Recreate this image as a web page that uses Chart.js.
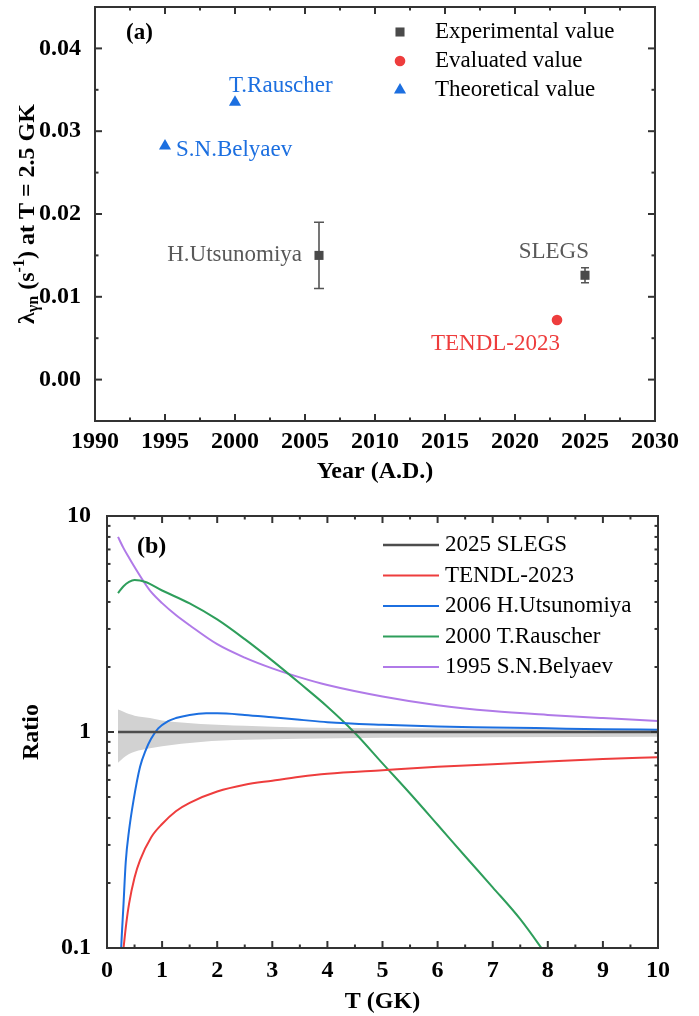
<!DOCTYPE html>
<html>
<head>
<meta charset="utf-8">
<script src="https://cdn.jsdelivr.net/npm/chart.js@4.4.1/dist/chart.umd.min.js"></script>
<style>
  html, body { margin: 0; padding: 0; background: #fff; }
  #wrap { width: 699px; height: 1016px; }
  canvas { display: block; }
</style>
</head>
<body>
<div id="wrap">
  <canvas id="rateChart" width="699" height="490"></canvas>
  <canvas id="ratioChart" width="699" height="526"></canvas>
</div>
<script>
// ---- panel (a): photodisintegration rate at T = 2.5 GK ----
const yearTicks = [1990, 1995, 2000, 2005, 2010, 2015, 2020, 2025, 2030];
const rateTicks = [0, 0.01, 0.02, 0.03, 0.04];

const expNames = ['H.Utsunomiya', 'SLEGS'];
const expYears = [2006, 2025];
const expRates = [0.0150, 0.0126];
const expErrors = [0.0040, 0.0009];

const evalNames = ['TENDL-2023'];
const evalYears = [2023];
const evalRates = [0.0072];

const theoNames = ['S.N.Belyaev', 'T.Rauscher'];
const theoYears = [1995, 2000];
const theoRates = [0.0282, 0.0335];

// ---- panel (b): ratio to SLEGS vs temperature ----
const tempTicks = [0, 1, 2, 3, 4, 5, 6, 7, 8, 9, 10];
const ratioTicks = [0.1, 1, 10];

const bandT = [0.2, 0.3, 0.4, 0.5, 0.78, 1, 1.7, 2.5, 3.5, 5, 7, 10];
const bandUpper = [1.27, 1.24, 1.21, 1.19, 1.16, 1.13, 1.09, 1.07, 1.05, 1.04, 1.035, 1.03];
const bandLower = [0.72, 0.76, 0.79, 0.81, 0.84, 0.86, 0.90, 0.92, 0.93, 0.94, 0.945, 0.95];

const slegsT = [0.2, 10];
const slegsRatio = [1, 1];

const tendlT = [0.27, 0.3, 0.35, 0.4, 0.5, 0.6, 0.8, 1.0, 1.25, 1.5, 2, 2.5, 3, 3.5, 4, 5, 6, 7, 8, 9, 10];
const tendlRatio = [0.085, 0.1, 0.13, 0.16, 0.212, 0.255, 0.325, 0.375, 0.43, 0.47, 0.53, 0.57, 0.595, 0.62, 0.64, 0.665, 0.69, 0.71, 0.73, 0.75, 0.765];

const utsuT = [0.22, 0.25, 0.3, 0.34, 0.4, 0.48, 0.6, 0.7, 0.8, 0.93, 1.1, 1.25, 1.5, 1.8, 2.0, 2.5, 3, 3.5, 4, 5, 6, 7, 8, 9, 10];
const utsuRatio = [0.05, 0.09, 0.16, 0.25, 0.35, 0.48, 0.69, 0.82, 0.93, 1.04, 1.12, 1.16, 1.2, 1.22, 1.22, 1.2, 1.17, 1.14, 1.11, 1.08, 1.06, 1.05, 1.04, 1.03, 1.025];

const rauT = [0.2, 0.3, 0.4, 0.5, 0.7, 1, 1.5, 2, 2.5, 3, 3.5, 4, 4.5, 5, 5.5, 6, 6.5, 7, 7.5, 8];
const rauRatio = [4.40, 4.73, 4.95, 5.05, 4.95, 4.52, 3.94, 3.32, 2.69, 2.14, 1.68, 1.31, 0.99, 0.716, 0.519, 0.372, 0.266, 0.191, 0.136, 0.091];

const belT = [0.2, 0.3, 0.4, 0.5, 0.67, 0.8, 1, 1.25, 1.5, 2, 2.5, 3, 3.5, 4, 5, 6, 7, 8, 9, 10];
const belRatio = [8.0, 7.1, 6.4, 5.8, 4.95, 4.45, 3.95, 3.48, 3.12, 2.55, 2.21, 1.97, 1.79, 1.65, 1.46, 1.33, 1.25, 1.2, 1.16, 1.125];

// ---- styling ----
const SERIF = "'Liberation Serif', 'Times New Roman', serif";
const GRAY = '#4a4a4a';
const LABEL_GRAY = '#595959';
const RED = '#ee3d3d';
const BLUE = '#1c6fe0';
const GREEN = '#2e9e5b';
const PURPLE = '#b07ae8';
const BAND = '#d2d2d2';

Chart.defaults.font.family = SERIF;

const xy = (xs, ys) => xs.map((x, i) => ({ x: x, y: ys[i] }));
const tickFont = { family: SERIF, size: 24, weight: 'bold' };
const titleFont = { family: SERIF, size: 24, weight: 'bold' };

// box around the plot with inward ticks on all four sides
const framePlugin = {
  id: 'frame',
  afterDatasetsDraw(chart, args, opts) {
    const { ctx, chartArea: a } = chart;
    const xs = chart.scales.x, ys = chart.scales.y;
    ctx.save();
    ctx.strokeStyle = '#333';
    ctx.lineWidth = 2;
    const seg = (x1, y1, x2, y2) => { ctx.beginPath(); ctx.moveTo(x1, y1); ctx.lineTo(x2, y2); ctx.stroke(); };
    const xMarks = (vals, len) => vals.forEach(v => {
      const px = xs.getPixelForValue(v);
      if (px <= a.left + 1 || px >= a.right - 1) return;
      seg(px, a.bottom, px, a.bottom - len);
      seg(px, a.top, px, a.top + len);
    });
    const yMarks = (vals, len) => vals.forEach(v => {
      const py = ys.getPixelForValue(v);
      if (py <= a.top + 1 || py >= a.bottom - 1) return;
      seg(a.left, py, a.left + len, py);
      seg(a.right, py, a.right - len, py);
    });
    xMarks(opts.xMajor, 7); xMarks(opts.xMinor, 3.5);
    yMarks(opts.yMajor, 7); yMarks(opts.yMinor, 3.5);
    ctx.strokeRect(a.left, a.top, a.right - a.left, a.bottom - a.top);
    ctx.restore();
  }
};

const panelTagPlugin = {
  id: 'panelTag',
  afterDraw(chart, args, opts) {
    const ctx = chart.ctx;
    ctx.save();
    ctx.font = `bold ${opts.size}px ${SERIF}`;
    ctx.fillStyle = '#000';
    ctx.textBaseline = 'middle';
    ctx.fillText(opts.text, opts.x, opts.y);
    ctx.restore();
  }
};

const errorBarPlugin = {
  id: 'errorBars',
  beforeDatasetsDraw(chart) {
    const ctx = chart.ctx;
    const ys = chart.scales.y;
    const meta = chart.getDatasetMeta(0);
    ctx.save();
    ctx.strokeStyle = '#555';
    ctx.lineWidth = 1.6;
    meta.data.forEach((pt, i) => {
      const top = ys.getPixelForValue(expRates[i] + expErrors[i]);
      const bot = ys.getPixelForValue(expRates[i] - expErrors[i]);
      const cap = i === 0 ? 5 : 4;
      ctx.beginPath();
      ctx.moveTo(pt.x, top); ctx.lineTo(pt.x, bot);
      ctx.moveTo(pt.x - cap, top); ctx.lineTo(pt.x + cap, top);
      ctx.moveTo(pt.x - cap, bot); ctx.lineTo(pt.x + cap, bot);
      ctx.stroke();
    });
    ctx.restore();
  }
};

const pointLabelPlugin = {
  id: 'pointLabels',
  afterDatasetsDraw(chart, args, opts) {
    const ctx = chart.ctx;
    ctx.save();
    ctx.font = `23px ${SERIF}`;
    ctx.textBaseline = 'middle';
    opts.items.forEach(it => {
      const el = chart.getDatasetMeta(it.ds).data[it.i];
      ctx.fillStyle = it.color;
      ctx.textAlign = it.align;
      ctx.fillText(it.text, el.x + it.dx, el.y + it.dy);
    });
    ctx.restore();
  }
};

const markerLegendPlugin = {
  id: 'markerLegend',
  afterDraw(chart, args, opts) {
    const ctx = chart.ctx;
    ctx.save();
    ctx.font = `23px ${SERIF}`;
    ctx.textBaseline = 'middle';
    chart.data.datasets.forEach((ds, k) => {
      const y = opts.y0 + k * opts.dy;
      ctx.fillStyle = ds.backgroundColor;
      Chart.helpers.drawPoint(ctx, { pointStyle: ds.pointStyle, radius: ds.pointRadius, rotation: 0, borderWidth: 0 }, opts.markerX, y);
      ctx.fillStyle = '#000';
      ctx.fillText(ds.label, opts.textX, y);
    });
    ctx.restore();
  }
};

const lineLegendPlugin = {
  id: 'lineLegend',
  afterDraw(chart, args, opts) {
    const ctx = chart.ctx;
    ctx.save();
    ctx.font = `23px ${SERIF}`;
    ctx.textBaseline = 'middle';
    let k = 0;
    chart.data.datasets.forEach(ds => {
      if (!ds.label) return;
      const y = opts.y0 + k * opts.dy;
      ctx.strokeStyle = ds.borderColor;
      ctx.lineWidth = ds.borderWidth;
      ctx.beginPath(); ctx.moveTo(opts.x1, y); ctx.lineTo(opts.x2, y); ctx.stroke();
      ctx.fillStyle = '#000';
      ctx.fillText(ds.label, opts.textX, y);
      k++;
    });
    ctx.restore();
  }
};

// y title of panel (a) with subscript and superscript
const rateTitlePlugin = {
  id: 'rateTitle',
  afterDraw(chart) {
    const { ctx, chartArea: a } = chart;
    const big = `bold 24px ${SERIF}`, small = `bold 16px ${SERIF}`;
    const parts = [
      { t: 'λ', f: big, dy: 0 },
      { t: 'γn', f: small, dy: 6 },
      { t: ' (s', f: big, dy: 0 },
      { t: '-1', f: small, dy: -8 },
      { t: ') at T = 2.5 GK', f: big, dy: 0 }
    ];
    ctx.save();
    let total = 0;
    parts.forEach(p => { ctx.font = p.f; p.w = ctx.measureText(p.t).width; total += p.w; });
    ctx.translate(28, (a.top + a.bottom) / 2);
    ctx.rotate(-Math.PI / 2);
    ctx.fillStyle = '#000';
    ctx.textBaseline = 'middle';
    ctx.textAlign = 'left';
    let x = -total / 2;
    parts.forEach(p => { ctx.font = p.f; ctx.fillText(p.t, x, p.dy); x += p.w; });
    ctx.restore();
  }
};

// ---------- Panel (a) ----------
new Chart(document.getElementById('rateChart'), {
  type: 'scatter',
  data: {
    datasets: [
      { label: 'Experimental value', data: xy(expYears, expRates), pointStyle: 'rect', pointRadius: 6.4, backgroundColor: GRAY, borderWidth: 0 },
      { label: 'Evaluated value', data: xy(evalYears, evalRates), pointStyle: 'circle', pointRadius: 5.3, backgroundColor: RED, borderWidth: 0 },
      { label: 'Theoretical value', data: xy(theoYears, theoRates), pointStyle: 'triangle', pointRadius: 7, backgroundColor: BLUE, borderWidth: 0 }
    ]
  },
  options: {
    responsive: false,
    animation: false,
    events: [],
    layout: { padding: { top: 0, right: 44, left: 0, bottom: 0 } },
    plugins: {
      legend: { display: false },
      tooltip: { enabled: false },
      frame: {
        xMajor: yearTicks, xMinor: yearTicks.map(v => v + 2.5),
        yMajor: rateTicks, yMinor: rateTicks.map(v => v + 0.005)
      },
      panelTag: { text: '(a)', x: 126, y: 33, size: 23 },
      markerLegend: { markerX: 400, textX: 435, y0: 32, dy: 29 },
      pointLabels: {
        items: [
          { ds: 0, i: 0, text: expNames[0], color: LABEL_GRAY, align: 'right', dx: -17, dy: 0 },
          { ds: 0, i: 1, text: expNames[1], color: LABEL_GRAY, align: 'right', dx: 4, dy: -23 },
          { ds: 1, i: 0, text: evalNames[0], color: RED, align: 'right', dx: 3, dy: 24 },
          { ds: 2, i: 0, text: theoNames[0], color: BLUE, align: 'left', dx: 11, dy: 4 },
          { ds: 2, i: 1, text: theoNames[1], color: BLUE, align: 'left', dx: -6, dy: -16 }
        ]
      }
    },
    scales: {
      x: {
        type: 'linear', min: 1990, max: 2030,
        afterBuildTicks: s => { s.ticks = yearTicks.map(v => ({ value: v })); },
        afterFit: s => { s.height = 69; },
        grid: { display: false }, border: { display: false },
        ticks: { font: tickFont, color: '#000', padding: -2, maxRotation: 0, autoSkip: false, callback: v => String(v) },
        title: { display: true, text: 'Year (A.D.)', font: titleFont, color: '#000', padding: { top: 0, bottom: 4 } }
      },
      y: {
        min: -0.005, max: 0.045,
        afterBuildTicks: s => { s.ticks = rateTicks.map(v => ({ value: v })); },
        afterFit: s => { s.width = 95; s.paddingTop = 0; s.paddingBottom = 0; },
        grid: { display: false }, border: { display: false },
        ticks: { font: tickFont, color: '#000', padding: 6, callback: v => v.toFixed(2) }
      }
    }
  },
  plugins: [errorBarPlugin, framePlugin, pointLabelPlugin, markerLegendPlugin, panelTagPlugin, rateTitlePlugin]
});

// ---------- Panel (b) ----------
const curve = (label, color, xs, ys, width) => ({
  label: label, data: xy(xs, ys), showLine: true, borderColor: color, borderWidth: width,
  pointRadius: 0, fill: false, cubicInterpolationMode: 'monotone', order: 1
});

new Chart(document.getElementById('ratioChart'), {
  type: 'scatter',
  data: {
    datasets: [
      { data: xy(bandT, bandUpper), showLine: true, pointRadius: 0, borderColor: 'rgba(0,0,0,0)', borderWidth: 1,
        backgroundColor: BAND, fill: '+1', cubicInterpolationMode: 'monotone', order: 5 },
      { data: xy(bandT, bandLower), showLine: true, pointRadius: 0, borderColor: 'rgba(0,0,0,0)', borderWidth: 1,
        fill: false, cubicInterpolationMode: 'monotone', order: 6 },
      curve('2025 SLEGS', '#4d4d4d', slegsT, slegsRatio, 2.4),
      curve('TENDL-2023', RED, tendlT, tendlRatio, 2),
      curve('2006 H.Utsunomiya', BLUE, utsuT, utsuRatio, 2),
      curve('2000 T.Rauscher', GREEN, rauT, rauRatio, 2),
      curve('1995 S.N.Belyaev', PURPLE, belT, belRatio, 2)
    ]
  },
  options: {
    responsive: false,
    animation: false,
    events: [],
    layout: { padding: { top: 26, right: 41, left: 0, bottom: 0 } },
    plugins: {
      legend: { display: false },
      tooltip: { enabled: false },
      frame: {
        xMajor: tempTicks, xMinor: tempTicks.map(v => v + 0.5),
        yMajor: ratioTicks,
        yMinor: [0.2, 0.3, 0.4, 0.5, 0.6, 0.7, 0.8, 0.9, 2, 3, 4, 5, 6, 7, 8, 9]
      },
      panelTag: { text: '(b)', x: 137, y: 57, size: 24 },
      lineLegend: { x1: 383, x2: 439, textX: 445, y0: 55, dy: 30.5 }
    },
    scales: {
      x: {
        type: 'linear', min: 0, max: 10,
        afterBuildTicks: s => { s.ticks = tempTicks.map(v => ({ value: v })); },
        afterFit: s => { s.height = 68; },
        grid: { display: false }, border: { display: false },
        ticks: { font: tickFont, color: '#000', padding: 0, maxRotation: 0, autoSkip: false, callback: v => String(v) },
        title: { display: true, text: 'T (GK)', font: titleFont, color: '#000', padding: { top: 0, bottom: 0 } }
      },
      y: {
        type: 'logarithmic', min: 0.1, max: 10,
        afterBuildTicks: s => { s.ticks = ratioTicks.map(v => ({ value: v })); },
        afterFit: s => { s.width = 107; },
        grid: { display: false }, border: { display: false },
        ticks: { font: tickFont, color: '#000', padding: 8, callback: v => String(v) },
        title: { display: true, text: 'Ratio', font: titleFont, color: '#000', padding: { top: 17, bottom: 0 } }
      }
    }
  },
  plugins: [framePlugin, lineLegendPlugin, panelTagPlugin]
});
</script>
</body>
</html>
